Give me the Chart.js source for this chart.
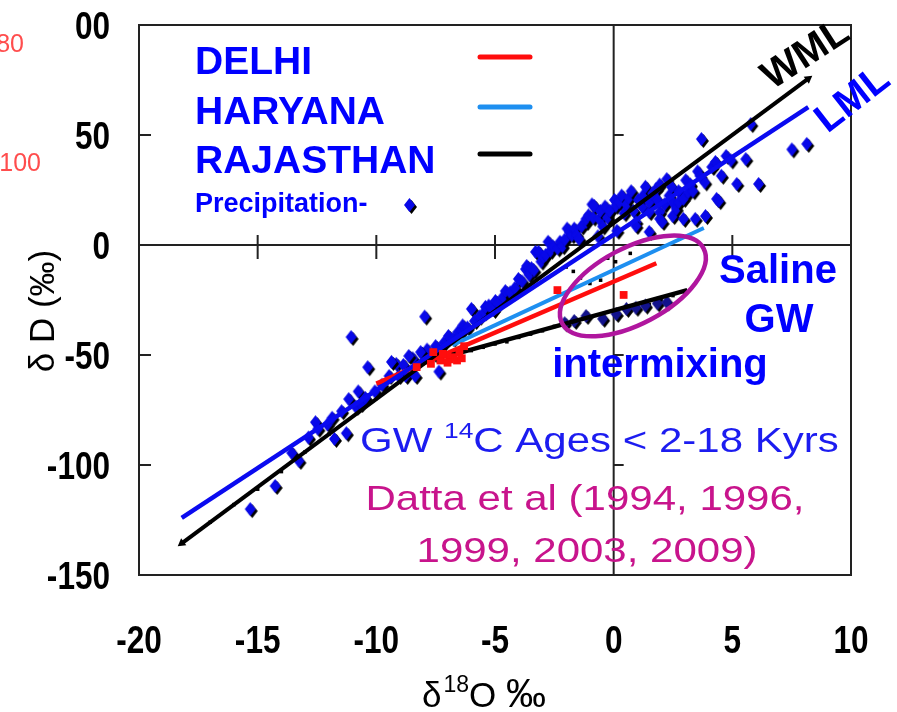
<!DOCTYPE html>
<html lang="en">
<head>
<meta charset="UTF-8">
<title>δD vs δ18O – Delhi, Haryana, Rajasthan</title>
<script src="https://cdn.jsdelivr.net/npm/chart.js@4.4.1/dist/chart.umd.min.js"></script>
<style>
  html, body { margin: 0; padding: 0; background: #ffffff; }
</style>
</head>
<body>
<canvas id="isoChart" width="897" height="712"></canvas>
<script>
// axis ranges and tick steps
const xRange = [-20, 10, 5];
const yRange = [-150, 100, 50];

// regression / meteoric lines, [d18O, dD] end points
const delhiLine     = [[-10.0, -63.0], [1.8, -8.3]];
const haryanaLine   = [[-6.8, -45.5], [3.8, 7.7]];
const rajasthanLine = [[-7.0, -50.5], [3.1, -20.5]];
const wmlLine       = [[-18.2, -135.6], [8.2, 75.6]];
const lmlLine       = [[-18.2, -124.0], [8.2, 62.7]];

const seriesNames  = ['DELHI', 'HARYANA', 'RAJASTHAN'];
const seriesColors = ['#ff0d0d', '#1e8ff0', '#000000'];

// precipitation samples (d18O, dD)
const precipitation = [
  [-15.25, -120.5], [-14.2, -110], [-13.5, -95], [-13.2, -98.6], [-12.8, -88],
  [-12.5, -81], [-12.4, -84], [-12.0, -82], [-11.8, -79], [-11.7, -88.6],
  [-11.4, -76], [-11.2, -86], [-11.1, -70.5], [-10.8, -74], [-10.7, -67],
  [-10.6, -72.7], [-10.4, -70], [-10.0, -67], [-9.7, -64], [-9.4, -60],
  [-9.1, -54.5], [-8.8, -55], [-8.7, -60], [-9.0, -60], [-8.4, -52], [-8.3, -60],
  [-8.0, -50], [-7.8, -48], [-7.5, -50], [-7.3, -58], [-10.3, -56], [-9.3, -53.6],
  [-11.0, -42.3], [-7.9, -33], [-8.57, -50.9], [-8.07, -49.1], [-7.44, -46.4],
  [-7.1, -45], [-6.9, -41.8], [-6.7, -43], [-6.5, -40], [-6.35, -39.5], [-6.3, -37],
  [-6.1, -38], [-5.93, -29.5], [-5.8, -35], [-5.6, -33], [-5.4, -31], [-5.34, -28.6],
  [-5.2, -28], [-5.0, -30], [-4.92, -25.9], [-4.8, -27], [-4.6, -24], [-4.5, -21.4],
  [-4.3, -22], [-4.1, -20], [-3.95, -15.9], [-3.8, -17], [-3.65, -11.4], [-3.6, -10],
  [-3.5, -14], [-3.4, -11], [-3.3, -12], [-3.23, -3.6], [-3.1, -3.6], [-3.0, -8],
  [-2.9, -6], [-2.8, -5], [-2.7, 1], [-2.6, -3], [-2.5, -1], [-2.3, -2], [-2.2, 1],
  [-2.1, -1], [-2.0, 2], [-1.9, 7], [-1.8, 5.5], [-1.7, 4], [-1.6, 7], [-1.5, 4],
  [-1.4, 2.3], [-1.3, 8], [-1.1, 10], [-1.1, 11.4], [-1.0, 13], [-0.85, 18],
  [-0.8, 12], [-0.76, 17.3], [-0.6, 3.5], [-0.55, 11.4], [-0.5, 15], [-0.4, 8],
  [-0.3, 17], [-0.2, 12], [-0.1, 15], [0.1, 20], [0.15, 17.4], [0.2, 6], [0.3, 19],
  [0.4, 22], [0.5, 14], [0.6, 18], [0.7, 21], [0.8, 24], [0.9, 15], [1.0, 10],
  [1.0, 8.2], [1.1, 20], [1.27, 16.8], [1.3, 22], [1.4, 26], [1.56, 14.5], [1.56, 19],
  [1.56, 5.5], [1.7, 23], [1.85, 25], [1.9, 20], [2.0, 27], [2.0, 14.5], [2.0, 11.4],
  [2.1, 10], [2.2, 18], [2.3, 29.5], [2.4, 22], [2.5, 26], [2.55, 19], [2.55, 12.7],
  [2.7, 16], [2.8, 24], [2.8, 19], [3.0, 20.5], [3.0, 11.4], [3.1, 29], [3.2, 23.5],
  [3.3, 27], [3.4, 24], [3.5, 11.4], [3.6, 33], [3.7, 31], [3.9, 28], [3.93, 12.7],
  [4.2, 35], [4.35, 37.3], [4.4, 20.5], [4.49, 19.5], [4.6, 31], [4.8, 40], [5.0, 38],
  [5.25, 27.3], [6.17, 27.3], [5.63, 38.6], [3.76, 47.7], [5.84, 54.5], [7.57, 43],
  [8.2, 45.5]
];

// Rajasthan groundwater samples
const rajasthanPts = [
  [-17.0, -126], [-16.0, -118], [-15.0, -111], [-14.0, -103], [-13.0, -94],
  [-12.0, -86], [-6.0, -48], [-5.5, -46.5], [-5.0, -45], [-4.5, -44], [-4.0, -42],
  [-3.5, -40.5], [-3.0, -39], [-2.5, -37], [-2.0, -36.5], [-1.5, -34.5],
  [-1.0, -33], [-0.5, -32], [0.0, -31], [0.5, -29.5], [1.0, -28], [1.5, -27],
  [2.0, -25], [2.5, -23], [3.0, -21.5], [-0.25, -6], [0.08, -7.6], [-0.55, -16],
  [-1.4, -15], [-1.0, -17.5], [0.7, -3.8], [-2.0, -10], [-1.7, -12]
];

// Delhi groundwater samples
const delhiPts = [
  [-6.76, -51], [-6.5, -49], [-6.9, -52], [-7.3, -52.5], [-7.7, -54], [-8.3, -55.5],
  [-6.3, -46], [-7.6, -48.7], [-7.0, -50], [-6.6, -52.5], [-7.2, -49.5],
  [-6.4, -51.5], [-7.0, -53.5], [0.42, -22.7], [-2.37, -20.5]
];

// saline groundwater samples
const salinePts = [
  [-2.0, -36], [-1.6, -35], [-1.1, -32.7], [-0.4, -34], [0.17, -31.8],
  [0.6, -29.5], [1.0, -29], [1.4, -28], [1.9, -27], [2.3, -26.5]
];

const toXY = arr => arr.map(p => ({ x: p[0], y: p[1] }));

function diamondSprite(fill) {
  const c = document.createElement('canvas');
  c.width = 16; c.height = 18;
  const g = c.getContext('2d');
  const d = (cx, cy, col) => {
    g.fillStyle = col;
    g.beginPath();
    g.moveTo(cx, cy - 7); g.lineTo(cx + 5.5, cy);
    g.lineTo(cx, cy + 7); g.lineTo(cx - 5.5, cy);
    g.closePath(); g.fill();
  };
  d(8.5, 10, '#000');
  d(6.5, 8, fill);
  return c;
}
const blueDiamond = diamondSprite('#0808e8');
const navyDiamond = diamondSprite('#12128c');

const sans = "'Liberation Sans', Arial, sans-serif";

function lineSet(pts, color, width, order) {
  return {
    type: 'line', data: toXY(pts), borderColor: color, borderWidth: width,
    pointRadius: 0, fill: false, order: order
  };
}

// text squeezed or stretched horizontally
function scaledText(ctx, text, x, y, sx, align) {
  ctx.save();
  ctx.translate(x, y);
  ctx.scale(sx, 1);
  ctx.textAlign = align;
  ctx.fillText(text, 0, 0);
  ctx.restore();
}

// frame, zero lines, tick labels, legend and annotations
const overlay = {
  id: 'overlay',
  beforeDatasetsDraw(chart) {
    const { ctx, chartArea: a, scales: { x, y } } = chart;
    const x0 = x.getPixelForValue(0), y0 = y.getPixelForValue(0);
    ctx.save();
    ctx.strokeStyle = '#222';
    ctx.lineWidth = 2;
    ctx.beginPath();
    ctx.moveTo(a.left, y0); ctx.lineTo(a.right, y0);
    ctx.moveTo(x0, a.top); ctx.lineTo(x0, a.bottom);
    x.ticks.forEach(t => {
      if (t.value === 0 || t.value === xRange[0] || t.value === xRange[1]) return;
      const px = x.getPixelForValue(t.value);
      ctx.moveTo(px, y0 - 10); ctx.lineTo(px, y0 + 14);
    });
    y.ticks.forEach(t => {
      if (t.value === 0 || t.value === yRange[0] || t.value === yRange[1]) return;
      const py = y.getPixelForValue(t.value);
      ctx.moveTo(x0, py); ctx.lineTo(x0 + 10, py);
      ctx.moveTo(a.left, py); ctx.lineTo(a.left + 12, py);
    });
    ctx.stroke();
    ctx.restore();
  },
  afterDatasetsDraw(chart) {
    const { ctx, chartArea: a, scales: { x, y } } = chart;
    ctx.save();
    ctx.strokeStyle = '#222';
    ctx.lineWidth = 2;
    ctx.strokeRect(a.left, a.top, a.width, a.height);

    // saline mixing ellipse
    ctx.strokeStyle = '#b0169e';
    ctx.lineWidth = 4.5;
    ctx.beginPath();
    ctx.ellipse(x.getPixelForValue(0.81), y.getPixelForValue(-18.6), 80, 38, -28 * Math.PI / 180, 0, Math.PI * 2);
    ctx.stroke();
    ctx.restore();
  },
  afterDraw(chart) {
    const { ctx, chartArea: a, scales: { x, y } } = chart;
    ctx.save();
    ctx.textBaseline = 'alphabetic';

    // tick labels, condensed heavy digits
    ctx.fillStyle = '#000';
    ctx.font = 'bold 38px ' + sans;
    x.ticks.forEach(t => {
      scaledText(ctx, String(t.value), x.getPixelForValue(t.value), 653, 0.83, 'center');
    });
    y.ticks.forEach(t => {
      const lbl = t.value === 100 ? '00' : String(t.value);
      scaledText(ctx, lbl, a.left - 29, y.getPixelForValue(t.value) + 14, 0.83, 'right');
    });

    // legend
    ctx.textAlign = 'left';
    ctx.font = 'bold 39px ' + sans;
    const rows = [74, 124, 173];
    const lineRows = [57, 107, 154];
    seriesNames.forEach((n, i) => {
      ctx.fillStyle = '#0000ff';
      ctx.fillText(n, 195, rows[i]);
      ctx.strokeStyle = seriesColors[i];
      ctx.lineWidth = 5;
      ctx.lineCap = 'round';
      ctx.beginPath();
      ctx.moveTo(480, lineRows[i]); ctx.lineTo(530, lineRows[i]);
      ctx.stroke();
    });
    ctx.font = 'bold 27px ' + sans;
    ctx.fillText('Precipitation-', 195, 212);
    ctx.drawImage(blueDiamond, 403, 197);

    // meteoric line labels
    ctx.font = 'bold 40px ' + sans;
    ctx.textAlign = 'center';
    ctx.textBaseline = 'middle';
    ctx.fillStyle = '#000';
    ctx.save(); ctx.translate(806, 55); ctx.rotate(-33 * Math.PI / 180); ctx.fillText('WML', 0, 0); ctx.restore();
    ctx.fillStyle = '#0000ff';
    ctx.save(); ctx.translate(853, 100); ctx.rotate(-38 * Math.PI / 180); ctx.fillText('LML', 0, 0); ctx.restore();

    ctx.textBaseline = 'alphabetic';
    ctx.font = 'bold 40px ' + sans;
    ctx.fillText('Saline', 778, 283);
    ctx.fillText('GW', 779, 332);
    ctx.fillText('intermixing', 660, 377);

    // age note with superscript
    ctx.fillStyle = '#1c1cf0';
    ctx.save();
    ctx.translate(360, 452);
    ctx.scale(1.2, 1);
    ctx.textAlign = 'left';
    let cx = 0;
    ctx.font = '35px ' + sans;
    ctx.fillText('GW ', cx, 0); cx += ctx.measureText('GW ').width;
    ctx.font = '22px ' + sans;
    ctx.fillText('14', cx, -14); cx += ctx.measureText('14').width;
    ctx.font = '35px ' + sans;
    ctx.fillText('C Ages < 2-18 Kyrs', cx, 0);
    ctx.restore();

    ctx.fillStyle = '#c8148c';
    ctx.font = '35px ' + sans;
    scaledText(ctx, 'Datta et al (1994, 1996,', 585, 510, 1.2, 'center');
    scaledText(ctx, '1999, 2003, 2009)', 587, 562, 1.2, 'center');

    // cut-off numbers at the left edge
    ctx.fillStyle = '#ff4d4d';
    ctx.textAlign = 'right';
    ctx.font = '25px ' + sans;
    ctx.fillText('80', 24, 52);
    ctx.fillText('100', 41, 171);

    // axis titles
    ctx.fillStyle = '#000';
    ctx.font = '35px ' + sans;
    ctx.textAlign = 'center';
    ctx.save(); ctx.translate(54, 311); ctx.rotate(-Math.PI / 2); ctx.fillText('δ D (‰)', 0, 0); ctx.restore();
    ctx.textAlign = 'left';
    let tx = 422;
    ctx.fillText('δ', tx, 707); tx += ctx.measureText('δ').width + 2;
    ctx.font = '23px ' + sans;
    ctx.fillText('18', tx, 692); tx += ctx.measureText('18').width;
    ctx.font = '35px ' + sans;
    ctx.fillText('O ', tx, 707); tx += ctx.measureText('O ').width;
    ctx.font = '40px ' + sans;
    ctx.fillText('‰', tx, 707);
    ctx.restore();
  }
};

new Chart(document.getElementById('isoChart'), {
  type: 'scatter',
  data: {
    datasets: [
      { label: 'Precipitation', data: toXY(precipitation), pointStyle: blueDiamond, order: 5 },
      { label: 'Rajasthan GW', data: toXY(rajasthanPts), pointStyle: 'rect', pointRadius: 2.5, backgroundColor: '#000', borderWidth: 0, order: 4 },
      { label: 'Saline GW', data: toXY(salinePts), pointStyle: navyDiamond, order: 3 },
      lineSet(rajasthanLine, seriesColors[2], 4.5, 2),
      lineSet(haryanaLine, seriesColors[1], 4, 2),
      lineSet(delhiLine, seriesColors[0], 4.5, 2),
      Object.assign(lineSet(lmlLine, '#0a0af0', 4.5, 1), { label: 'LML' }),
      Object.assign(lineSet(wmlLine, '#000', 4, 1), {
        label: 'WML', pointStyle: 'triangle', pointRadius: 5,
        pointBackgroundColor: '#000', pointBorderWidth: 0, pointRotation: [233, 53]
      }),
      { label: 'Delhi GW', data: toXY(delhiPts), pointStyle: 'rect', pointRadius: 5.5, backgroundColor: '#ff0d0d', borderWidth: 0, order: 0 }
    ]
  },
  options: {
    responsive: false,
    animation: false,
    events: [],
    layout: { padding: { top: 25, right: 46, left: 0, bottom: 0 } },
    plugins: { legend: { display: false }, tooltip: { enabled: false } },
    scales: {
      x: {
        type: 'linear', min: xRange[0], max: xRange[1],
        grid: { display: false, drawTicks: false }, border: { display: false },
        ticks: { stepSize: xRange[2], display: false },
        afterFit: s => { s.height = 137; }
      },
      y: {
        min: yRange[0], max: yRange[1],
        grid: { display: false, drawTicks: false }, border: { display: false },
        ticks: { stepSize: yRange[2], display: false },
        afterFit: s => { s.width = 139; }
      }
    }
  },
  plugins: [overlay]
});
</script>
</body>
</html>
